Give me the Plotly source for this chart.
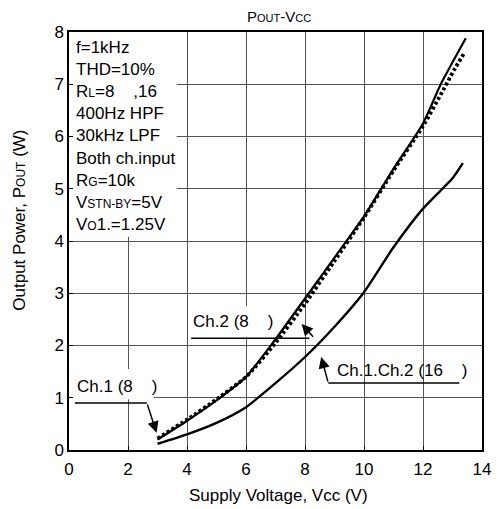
import plotly.graph_objects as go

# ---- data ----
vcc_ch1_8 = [3.0, 4.0, 5.0, 6.0, 7.0, 8.0, 9.0, 10.0, 11.0, 12.0, 12.6, 13.0, 13.45]
pout_ch1_8 = [0.20, 0.56, 0.95, 1.40, 2.12, 2.90, 3.68, 4.47, 5.38, 6.25, 7.00, 7.42, 7.88]

vcc_ch2_8 = [3.0, 4.0, 5.0, 6.0, 7.0, 8.0, 9.0, 10.0, 11.0, 12.0, 12.6, 13.05, 13.4]
pout_ch2_8 = [0.22, 0.58, 0.97, 1.40, 2.05, 2.80, 3.62, 4.45, 5.35, 6.20, 6.80, 7.27, 7.60]

vcc_16 = [3.0, 4.0, 5.0, 6.0, 7.0, 8.0, 9.0, 10.0, 11.0, 12.0, 13.0, 13.35]
pout_16 = [0.12, 0.30, 0.52, 0.82, 1.28, 1.78, 2.36, 3.02, 3.88, 4.62, 5.20, 5.49]

x_ticks = [0, 2, 4, 6, 8, 10, 12, 14]
y_ticks = [0, 1, 2, 3, 4, 5, 6, 7, 8]

cond_lines = [
    "f=1kHz",
    "THD=10%",
    "R<span style='font-size:12px'>L</span>=8\u00a0\u00a0\u00a0 ,16",
    "400Hz HPF",
    "30kHz LPF",
    "Both ch.input",
    "R<span style='font-size:12px'>G</span>=10k",
    "V<span style='font-size:12px'>STN-BY</span>=5V",
    "V<span style='font-size:12px'>O</span>1.=1.25V",
]

# callout labels: text, text position, leader line points, arrow tail, arrow tip
lbl_ch1 = dict(text="Ch.1 (8\u00a0\u00a0\u00a0 )", x=0.2, y=1.22,
               line_x=[0.2, 2.64], line_y=[0.9, 0.9], tail=(2.64, 0.9), tip=(2.97, 0.33))
lbl_ch2 = dict(text="Ch.2 (8\u00a0\u00a0\u00a0 )", x=4.12, y=2.45,
               line_x=[4.14, 8.15], line_y=[2.14, 2.14], tail=(8.32, 2.14), tip=(7.885, 2.41))
lbl_16 = dict(text="Ch.1.Ch.2 (16\u00a0\u00a0\u00a0 )", x=9.02, y=1.53,
              line_x=[13.23, 8.79], line_y=[1.28, 1.28], tail=(8.79, 1.28), tip=(8.55, 1.78))

FONT = "Liberation Sans, Arial, sans-serif"

fig = go.Figure()

fig.add_trace(go.Scatter(x=vcc_16, y=pout_16, mode="lines",
                         line=dict(color="black", width=2.4, shape="spline", smoothing=0.6)))
fig.add_trace(go.Scatter(x=vcc_ch2_8, y=pout_ch2_8, mode="lines",
                         line=dict(color="black", width=3.8, shape="spline", smoothing=0.6, dash="3px,2.5px")))
fig.add_trace(go.Scatter(x=vcc_ch1_8, y=pout_ch1_8, mode="lines",
                         line=dict(color="black", width=2.2, shape="spline", smoothing=0.6)))

for lbl in (lbl_ch1, lbl_ch2, lbl_16):
    fig.add_trace(go.Scatter(x=lbl["line_x"], y=lbl["line_y"], mode="lines",
                             line=dict(color="black", width=1.5)))
    fig.add_annotation(x=lbl["x"], y=lbl["y"], xref="x", yref="y", text=lbl["text"],
                       showarrow=False, xanchor="left", yanchor="middle",
                       font=dict(family=FONT, size=17, color="black"))
    fig.add_annotation(x=lbl["tip"][0], y=lbl["tip"][1], ax=lbl["tail"][0], ay=lbl["tail"][1],
                       xref="x", yref="y", axref="x", ayref="y", text="",
                       showarrow=True, arrowhead=2, arrowsize=1.5, arrowwidth=1.5,
                       arrowcolor="black", standoff=0, startstandoff=0)

# white boxes hiding the grid behind the texts
fig.add_shape(type="rect", xref="x", yref="y", x0=0, x1=3.65, y0=4.08, y1=8,
              fillcolor="white", line_width=0, layer="between")
fig.add_shape(type="rect", xref="x", yref="y", x0=0, x1=2.87, y0=0.97, y1=1.55,
              fillcolor="white", line_width=0, layer="between")
fig.add_shape(type="rect", xref="x", yref="y", x0=4.1, x1=7.2, y0=2.16, y1=2.75,
              fillcolor="white", line_width=0, layer="between")

fig.add_annotation(x=0.17, y=7.93, xref="x", yref="y", text="<br>".join(cond_lines),
                   showarrow=False, xanchor="left", yanchor="top", align="left",
                   font=dict(family=FONT, size=17, color="black"))

# titles
fig.add_annotation(x=0.508, y=1.038, xref="paper", yref="paper",
                   text="P<span style='font-size:11px'>OUT</span>-V<span style='font-size:11px'>CC</span>",
                   showarrow=False, xanchor="center", yanchor="middle",
                   font=dict(family=FONT, size=15, color="black"))
fig.add_annotation(x=0.508, y=-0.108, xref="paper", yref="paper",
                   text="Supply Voltage, Vcc (V)", showarrow=False,
                   xanchor="center", yanchor="middle",
                   font=dict(family=FONT, size=17, color="black"))
fig.add_annotation(x=-0.122, y=0.55, xref="paper", yref="paper",
                   text="Output Power, P<span style='font-size:12px'>OUT</span> (W)",
                   showarrow=False, textangle=-90, xanchor="center", yanchor="middle",
                   font=dict(family=FONT, size=17, color="black"))

axis_common = dict(showgrid=True, gridcolor="#555555", gridwidth=1,
                   showline=True, linecolor="black", linewidth=1.5, mirror=True,
                   ticks="inside", ticklen=4, tickcolor="black", zeroline=False,
                   tickfont=dict(family=FONT, size=17, color="black"))

fig.update_xaxes(range=[0, 14], tickvals=x_ticks, ticklabelstandoff=3, **axis_common)
fig.update_yaxes(range=[0, 8], tickvals=y_ticks, **axis_common)

# page body has an 8px margin, so the figure is sized/shifted to fit the 503x509 window
fig.update_layout(width=495, height=501, margin=dict(l=61, r=15, t=24, b=59),
                  plot_bgcolor="white", paper_bgcolor="white", showlegend=False,
                  font=dict(family=FONT, color="black"))

fig.write_html("out.html")
